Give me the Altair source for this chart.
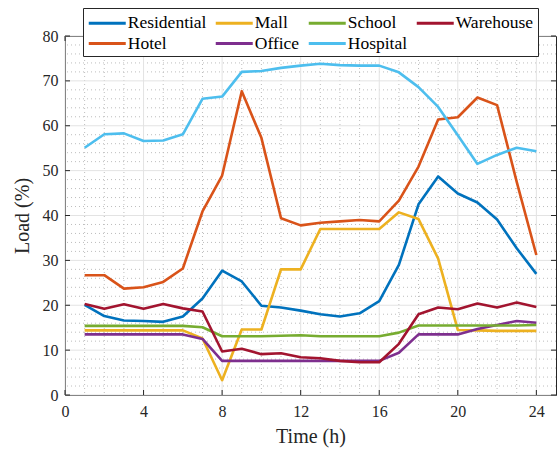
import altair as alt
import pandas as pd

# Hourly load profiles (% of peak) for seven building types
hours = list(range(1, 25))
residential = [20.1, 17.6, 16.6, 16.5, 16.3, 17.5, 21.5, 27.7, 25.3, 19.9, 19.5, 18.8,
               18.0, 17.5, 18.2, 20.9, 29.0, 42.5, 48.7, 44.9, 42.9, 39.1, 32.7, 27.0]
hotel = [26.7, 26.7, 23.7, 24.0, 25.2, 28.2, 40.9, 48.9, 67.7, 57.3, 39.4, 37.8,
         38.4, 38.7, 39.0, 38.7, 43.3, 50.9, 61.4, 61.9, 66.3, 64.6, 47.5, 31.2]
mall = [14.4, 14.4, 14.4, 14.4, 14.4, 14.4, 12.6, 3.3, 14.6, 14.6, 28.0, 28.0,
        37.0, 37.0, 37.0, 37.0, 40.7, 39.2, 30.4, 14.5, 14.4, 14.3, 14.3, 14.3]
office = [13.5, 13.5, 13.5, 13.5, 13.5, 13.5, 12.5, 7.6, 7.6, 7.6, 7.6, 7.6,
          7.6, 7.6, 7.6, 7.6, 9.4, 13.5, 13.5, 13.5, 14.7, 15.6, 16.5, 16.1]
school = [15.4, 15.4, 15.4, 15.4, 15.4, 15.4, 15.1, 13.1, 13.1, 13.1, 13.2, 13.3,
          13.1, 13.1, 13.1, 13.1, 13.9, 15.5, 15.5, 15.5, 15.5, 15.5, 15.5, 15.6]
hospital = [55.1, 58.1, 58.3, 56.6, 56.7, 58.1, 66.0, 66.5, 72.0, 72.2, 72.9, 73.4,
            73.8, 73.5, 73.4, 73.4, 71.9, 68.6, 64.2, 57.9, 51.5, 53.5, 55.1, 54.3]
warehouse = [20.3, 19.2, 20.2, 19.2, 20.3, 19.3, 18.6, 9.7, 10.3, 9.1, 9.3, 8.4,
             8.2, 7.6, 7.3, 7.3, 11.4, 18.0, 19.5, 19.1, 20.4, 19.5, 20.6, 19.6]

# drawing order (later series on top)
series = [("Residential", residential), ("Hotel", hotel), ("Mall", mall),
          ("Office", office), ("School", school), ("Hospital", hospital),
          ("Warehouse", warehouse)]
# legend order (row by row, four columns)
legend_order = ["Residential", "Mall", "School", "Warehouse", "Hotel", "Office", "Hospital"]
legend_colors = ["#0072BD", "#EDB120", "#77AC30", "#A2142F", "#D95319", "#7E2F8E", "#4DBEEE"]

x_major = [0, 4, 8, 12, 16, 20, 24]
y_major = [0, 10, 20, 30, 40, 50, 60, 70, 80]
x_minor = [h for h in range(1, 25) if h % 4 != 0]
y_minor = [v for v in range(2, 80, 2) if v % 10 != 0]

rows = []
for i, (name, vals) in enumerate(series):
    for h, v in zip(hours, vals):
        rows.append({"hour": h, "load": v, "type": name, "z": i})
df = pd.DataFrame(rows)

W, H = 491, 359
FONT = "Liberation Serif"
INK = "#262626"

xs = alt.Scale(domain=[0, 25], nice=False, zero=False)
ys = alt.Scale(domain=[0, 80], nice=False)
x_axis = alt.Axis(values=x_major, title="Time (h)", grid=False, ticks=False, domain=False,
                  labelFont=FONT, labelFontSize=16, labelColor=INK, labelPadding=8,
                  titleFont=FONT, titleFontSize=20, titleFontWeight="normal",
                  titleColor=INK, titlePadding=7, labelFlush=False)
y_axis = alt.Axis(values=y_major, title="Load (%)", grid=False, ticks=False, domain=False,
                  labelFont=FONT, labelFontSize=16, labelColor=INK, labelPadding=7,
                  titleFont=FONT, titleFontSize=20, titleFontWeight="normal",
                  titleColor=INK, titlePadding=10)

X = alt.X("hour:Q", scale=xs, axis=x_axis)
Y = alt.Y("load:Q", scale=ys, axis=y_axis)

xmin_df = pd.DataFrame({"hour": x_minor})
ymin_df = pd.DataFrame({"load": y_minor})
xmaj_df = pd.DataFrame({"hour": x_major})
ymaj_df = pd.DataFrame({"load": y_major})

minor_x = alt.Chart(xmin_df).mark_rule(color="#bdbdbd", strokeWidth=1, strokeDash=[1, 3]).encode(x=X)
minor_y = alt.Chart(ymin_df).mark_rule(color="#bdbdbd", strokeWidth=1, strokeDash=[1, 3]).encode(y=Y)
major_x = alt.Chart(xmaj_df).mark_rule(color="#e3e3e3", strokeWidth=1).encode(x=X)
major_y = alt.Chart(ymaj_df).mark_rule(color="#e3e3e3", strokeWidth=1).encode(y=Y)

# inward-pointing tick marks on all four sides
tick_style = dict(color=INK, strokeWidth=1)
tick_bottom = alt.Chart(xmaj_df).mark_rule(**tick_style).encode(x=X, y=alt.value(H), y2=alt.value(H - 5))
tick_top = alt.Chart(xmaj_df).mark_rule(**tick_style).encode(x=X, y=alt.value(0), y2=alt.value(5))
tick_left = alt.Chart(ymaj_df).mark_rule(**tick_style).encode(y=Y, x=alt.value(0), x2=alt.value(5))
tick_right = alt.Chart(ymaj_df).mark_rule(**tick_style).encode(y=Y, x=alt.value(W), x2=alt.value(W - 5))

# legend swatch: a flat line twice as wide as the nominal symbol size
SW = 18.5
lines = alt.Chart(df).mark_line(strokeWidth=2.6, strokeJoin="round").encode(
    x=X,
    y=Y,
    order=alt.Order("hour:Q"),
    detail="z:O",
    color=alt.Color(
        "type:N",
        scale=alt.Scale(domain=legend_order, range=legend_colors),
        legend=alt.Legend(
            title=None, orient="none", legendX=18, legendY=-28, columns=4,
            direction="horizontal",
            symbolType="M-2,0H2", symbolSize=SW * SW, symbolStrokeWidth=3,
            symbolOffset=SW / 2,
            labelFont=FONT, labelFontSize=17.5, labelColor="#000000",
            labelOffset=9.5,
            columnPadding=2, rowPadding=0.5, padding=4,
            fillColor="white", strokeColor=INK, labelLimit=300,
        ),
    ),
)

chart = alt.layer(
    minor_x, minor_y, major_x, major_y, lines,
    tick_bottom, tick_top, tick_left, tick_right,
).properties(
    width=W, height=H,
    autosize=alt.AutoSizeParams(type="none"),
    padding={"left": 65, "top": 36, "right": 2, "bottom": 57},
    background="white",
).configure_view(stroke=INK, strokeWidth=1)

chart.save("out.html", embed_options={"renderer": "svg", "actions": False})
